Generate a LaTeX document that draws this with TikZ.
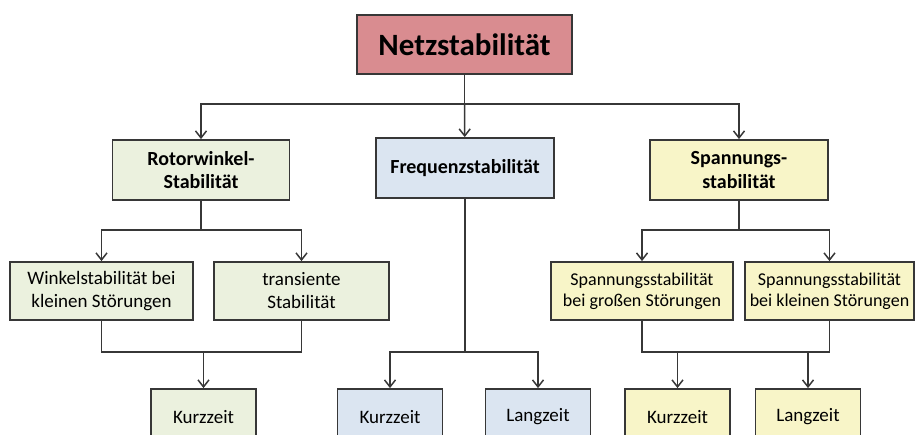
\documentclass[tikz,border=0pt]{standalone}
\usepackage{fontspec}
\setmainfont{Carlito}
\usetikzlibrary{arrows.meta}
\definecolor{netzred}{RGB}{217,140,144}
\definecolor{rotgreen}{RGB}{235,241,222}
\definecolor{freqblue}{RGB}{219,229,241}
\definecolor{spanyellow}{RGB}{248,245,200}
\definecolor{linegray}{RGB}{55,55,55}
\tikzset{every node/.style={font=\fontsize{19}{23}\selectfont}}

\begin{document}
\begin{tikzpicture}[x=1pt, y=-1pt,
    box/.style={draw=linegray, line width=1.8pt, align=center, inner sep=0pt},
    mainbox/.style={box, fill=netzred, minimum width=215pt, minimum height=59pt,
      font=\fontsize{31}{36}\selectfont\bfseries},
    headbox/.style={box, minimum width=177pt, minimum height=60pt,
      font=\fontsize{20}{23.5}\selectfont\bfseries},
    subbox/.style={box, minimum height=58pt},
    timebox/.style={box, minimum width=105pt, minimum height=56pt},
    conn/.style={draw=linegray, line width=1.5pt},
    >={Straight Barb[length=7pt,width=11pt]}]
  \useasboundingbox (0,0) rectangle (917,435);
  \clip (0,0) rectangle (917,435);

  % nodes
  \node[mainbox] (netz) at (464.5,44.5) {Netzstabilität};
  \node[headbox, fill=rotgreen] (rot) at (201,170) {Rotorwinkel-\\Stabilität};
  \node[headbox, fill=freqblue, minimum width=178pt] (freq) at (465,168) {Frequenzstabilität};
  \node[headbox, fill=spanyellow, minimum width=178pt] (span) at (739,170) {Spannungs-\\stabilität};

  \node[subbox, fill=rotgreen, minimum width=183pt] (wink) at (101.5,291) {Winkelstabilität bei\\kleinen Störungen};
  \node[subbox, fill=rotgreen, minimum width=175pt] (trans) at (301.5,291) {transiente\\Stabilität};
  \node[subbox, fill=spanyellow, minimum width=182pt, font=\fontsize{18}{21}\selectfont] (sgross) at (642,291) {Spannungsstabilität\\bei großen Störungen};
  \node[subbox, fill=spanyellow, minimum width=169pt, font=\fontsize{18}{21}\selectfont] (sklein) at (829.5,291) {Spannungsstabilität\\bei kleinen Störungen};

  \node[timebox, fill=rotgreen] (rkurz) at (203.5,417) {Kurzzeit};
  \node[timebox, fill=freqblue] (fkurz) at (390,417) {Kurzzeit};
  \node[timebox, fill=freqblue] (flang) at (538,417) {Langzeit};
  \node[timebox, fill=spanyellow] (skurz) at (677.5,417) {Kurzzeit};
  \node[timebox, fill=spanyellow] (slang) at (808,417) {Langzeit};

  % junctions
  \coordinate (jtop) at (464.5,104);
  \coordinate (jrot) at (201,230);
  \coordinate (jrot2) at (203.5,352);
  \coordinate (jfreq) at (465,352);
  \coordinate (jspan) at (739,230);
  \coordinate (jspan2) at (677.5,352);
  \coordinate (jspan3) at (808,352);

  % connectors
  \path[conn] (netz) -- (jtop);
  \path[conn, ->] (jtop) -| (rot);
  \path[conn, ->] (jtop) -- (freq);
  \path[conn, ->] (jtop) -| (span);

  \path[conn] (rot) -- (jrot);
  \path[conn, ->] (jrot) -| (wink);
  \path[conn, ->] (jrot) -| (trans);
  \path[conn] (wink) |- (jrot2) -| (trans);
  \path[conn, ->] (jrot2) -- (rkurz);

  \path[conn] (freq) -- (jfreq);
  \path[conn, ->] (jfreq) -| (fkurz);
  \path[conn, ->] (jfreq) -| (flang);

  \path[conn] (span) -- (jspan);
  \path[conn, ->] (jspan) -| (sgross);
  \path[conn, ->] (jspan) -| (sklein);
  \path[conn] (sgross) |- (jspan2) -- (jspan3) -| (sklein);
  \path[conn, ->] (jspan2) -- (skurz);
  \path[conn, ->] (jspan3) -- (slang);
\end{tikzpicture}
\end{document}
